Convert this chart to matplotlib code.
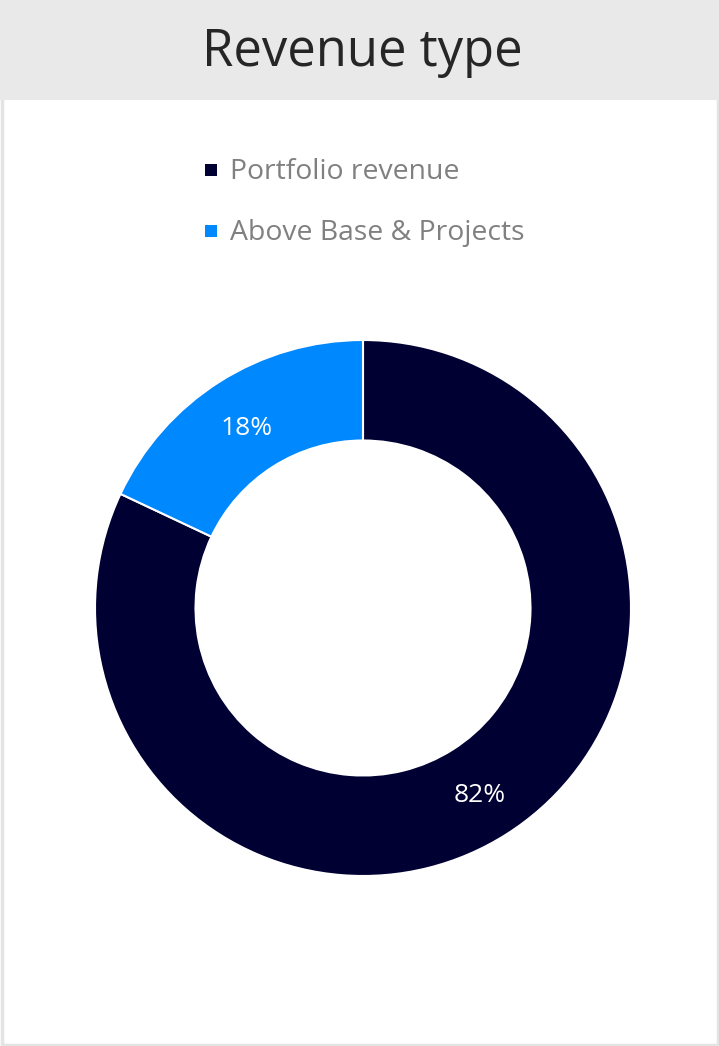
import matplotlib.pyplot as plt
from matplotlib.patches import Rectangle

plt.rcParams['font.family'] = ['Open Sans', 'DejaVu Sans']

titulo = "Revenue type"
categorias = ["Portfolio revenue", "Above Base & Projects"]
valores = [82, 18]
colores = ["#000033", "#0088ff"]

W, H = 719, 1046
fig = plt.figure(figsize=(W / 100, H / 100), dpi=100)
fig.patch.set_facecolor("white")

# marco y banda del titulo
fig.patches.append(Rectangle((1.5 / W, 1.5 / H), (W - 3) / W, (H - 3) / H,
                             transform=fig.transFigure, facecolor="white",
                             edgecolor="#e4e4e4", linewidth=2.5, zorder=0))
fig.patches.append(Rectangle((0, 1 - 100 / H), 1, 100 / H,
                             transform=fig.transFigure, facecolor="#e9e9e9",
                             edgecolor="none", zorder=1))
fig.text(362 / W, 1 - 52 / H, titulo, ha="center", va="center",
         fontsize=36.5, color="#262626", zorder=2)

# leyenda manual
for i, (cat, col) in enumerate(zip(categorias, colores)):
    y = 172 + i * 61
    fig.patches.append(Rectangle((205 / W, 1 - (y + 4) / H), 12 / W, 12 / H,
                                 transform=fig.transFigure, facecolor=col,
                                 edgecolor="none", zorder=2))
    fig.text(230 / W, 1 - y / H, cat, ha="left", va="center",
             fontsize=20.4, color="#808080", zorder=2)

# donut
cx, cy, r = 363, 608, 268
ax = fig.add_axes([(cx - r) / W, (H - cy - r) / H, 2 * r / W, 2 * r / H])
ax.set_zorder(3)
wedges, textos, pcts = ax.pie(
    valores, colors=colores, startangle=90, counterclock=False,
    autopct="%d%%", pctdistance=0.81, radius=1,
    wedgeprops=dict(width=0.375, edgecolor="white", linewidth=1.5),
    textprops=dict(color="white", fontsize=19))
for p in pcts:
    x, y = p.get_position()
    p.set_position((x, y - 0.015))
ax.set_xlim(-1, 1)
ax.set_ylim(-1, 1)
ax.set_aspect("equal")
ax.axis("off")

fig.savefig("out.png", dpi=100)
plt.close(fig)
